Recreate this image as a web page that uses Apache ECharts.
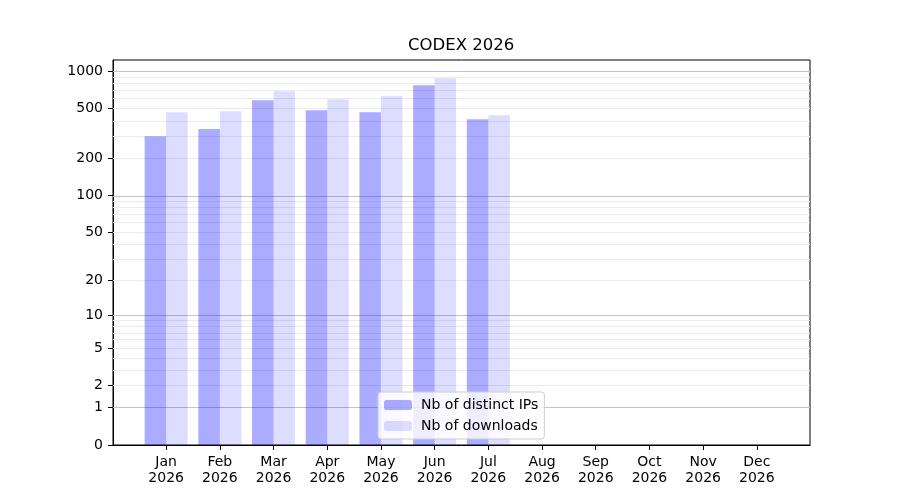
<!DOCTYPE html>
<html>
<head>
<meta charset="utf-8">
<script src="https://cdn.jsdelivr.net/npm/echarts@6/dist/echarts.min.js"></script>
<style>
    html, body { margin: 0; padding: 0; background: #fff; }
    #chart { width: 900px; height: 500px; }
</style>
</head>
<body>
<div id="chart"></div>
<script>
(function () {
    'use strict';

    var months = ['Jan', 'Feb', 'Mar', 'Apr', 'May', 'Jun', 'Jul', 'Aug', 'Sep', 'Oct', 'Nov', 'Dec'];
    var year = '2026';
    var distinctIps = [300, 342, 585, 486, 468, 772, 411];
    var downloads = [468, 477, 691, 596, 630, 878, 443];
    var yTickLabels = [0, 1, 2, 5, 10, 20, 50, 100, 200, 500, 1000];
    var majorGrid = [1, 10, 100, 1000];
    var minorGrid = [2, 3, 4, 5, 6, 7, 8, 9, 20, 30, 40, 50, 60, 70, 80, 90,
                     200, 300, 400, 500, 600, 700, 800, 900];

    // the y scale is log10(1 + v), so 0 can sit at the bottom
    function fwd(v) { return Math.log10(1 + v); }
    function inv(t) { return Math.round(Math.pow(10, t) - 1); }

    function toPoints(arr) {
        return arr.map(function (v, i) { return [i, fwd(v)]; });
    }

    var gridLines = majorGrid.map(function (v) {
        return { yAxis: fwd(v), lineStyle: { color: '#c4c4c4', width: 1, type: 'solid' } };
    }).concat(minorGrid.map(function (v) {
        return { yAxis: fwd(v), lineStyle: { color: '#ebebeb', width: 1, type: 'solid' } };
    }));

    var font = 'DejaVu Sans';
    var myChart = echarts.init(document.getElementById('chart'));

    myChart.setOption({
        animation: false,
        textStyle: { fontFamily: font },
        title: {
            text: 'CODEX ' + year,
            left: 408,
            top: 37,
            padding: 0,
            textStyle: { fontFamily: font, fontSize: 16.5, fontWeight: 'normal', color: '#000' }
        },
        legend: {
            orient: 'vertical',
            left: 378,
            top: 392,
            padding: [6, 6, 6, 6],
            itemGap: 7,
            itemWidth: 28,
            itemHeight: 10,
            backgroundColor: 'rgba(255,255,255,0.8)',
            borderColor: '#cccccc',
            borderWidth: 1,
            borderRadius: 3,
            textStyle: { fontFamily: font, fontSize: 14, color: '#000', padding: [0, 0, 0, 4] },
            data: ['Nb of distinct IPs', 'Nb of downloads']
        },
        grid: {
            left: 113,
            right: 90,
            top: 60,
            bottom: 55,
            show: true,
            borderColor: '#000',
            borderWidth: 1
        },
        xAxis: {
            type: 'value',
            min: -0.99,
            max: 11.99,
            splitLine: { show: false },
            axisLine: { onZero: false, lineStyle: { color: '#000' } },
            axisTick: {
                customValues: months.map(function (m, i) { return i; }),
                length: 5,
                lineStyle: { color: '#000' }
            },
            axisLabel: {
                customValues: months.map(function (m, i) { return i; }),
                formatter: function (v) { return months[v] + '\n' + year; },
                fontFamily: font,
                fontSize: 14,
                lineHeight: 16,
                color: '#000',
                margin: 9
            }
        },
        yAxis: {
            type: 'value',
            min: 0,
            max: 3.09,
            splitLine: { show: false },
            axisLine: { show: true, onZero: false, lineStyle: { color: '#000' } },
            axisTick: {
                show: true,
                customValues: yTickLabels.map(fwd),
                length: 5,
                lineStyle: { color: '#000' }
            },
            axisLabel: {
                customValues: yTickLabels.map(fwd),
                formatter: function (v) { return String(inv(v)); },
                fontFamily: font,
                fontSize: 14,
                color: '#000',
                margin: 10
            }
        },
        series: [
            {
                // grid lines only, kept under the bars
                type: 'line',
                z: 1,
                data: [],
                markLine: {
                    z: 1,
                    silent: true,
                    symbol: 'none',
                    label: { show: false },
                    data: gridLines
                }
            },
            {
                name: 'Nb of distinct IPs',
                type: 'bar',
                z: 3,
                barWidth: 21.5,
                barGap: '0%',
                itemStyle: { color: 'rgba(0,0,255,0.33)' },
                data: toPoints(distinctIps)
            },
            {
                name: 'Nb of downloads',
                type: 'bar',
                z: 3,
                barWidth: 21.5,
                barGap: '0%',
                itemStyle: { color: 'rgba(0,0,255,0.135)' },
                data: toPoints(downloads)
            }
        ]
    });
})();
</script>
</body>
</html>
